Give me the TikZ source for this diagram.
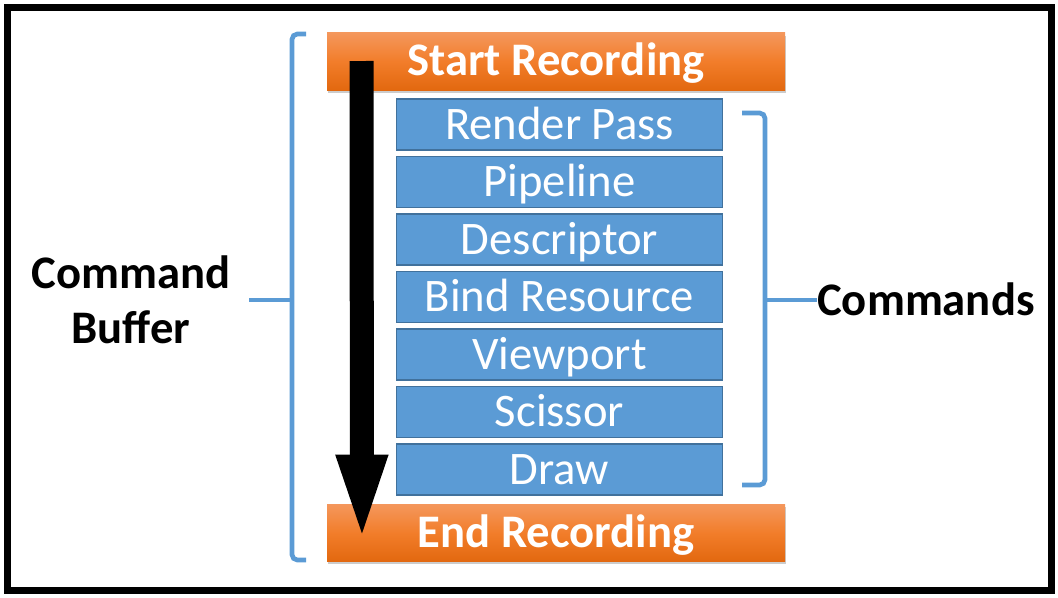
\documentclass[tikz,border=0pt]{standalone}
\usepackage{fontspec}
\setmainfont{Carlito}
\usetikzlibrary{arrows.meta,shadows}

\definecolor{cmdblue}{HTML}{5B9BD5}
\definecolor{cmdedge}{HTML}{41719C}
\definecolor{recTop}{HTML}{F4975C}
\definecolor{recMid}{HTML}{F27D2A}
\definecolor{recBot}{HTML}{E2680F}

\begin{document}
\begin{tikzpicture}[x=0.75pt,y=-0.75pt]

\tikzstyle{record}=[rectangle,top color=recTop,bottom color=recBot,middle color=recMid,minimum width=343.5pt,minimum height=43pt,inner sep=0pt,text=white,font=\fontsize{35}{42}\selectfont\bfseries,text height=24.5pt,text depth=3pt,drop shadow={shadow xshift=1pt,shadow yshift=-2pt,opacity=0.4}]
\tikzstyle{command}=[rectangle,fill=cmdblue,draw=cmdedge,line width=1.1pt,minimum width=244.5pt,minimum height=38pt,inner sep=0pt,text=white,font=\fontsize{35}{42}\selectfont,text height=24.5pt,text depth=2.5pt]
\tikzstyle{bracket}=[draw=cmdblue,line width=3.5pt,rounded corners=4pt]
\tikzstyle{side}=[font=\fontsize{35}{41}\selectfont\bfseries,inner sep=0pt,align=center]

\useasboundingbox (0,0) rectangle (1058,597);
\draw[line width=5.25pt] (7.5,7.5) rectangle (1051,590.5);

% brackets
\draw[bracket] (306,34) -| (292,560) -- (306,560);
\draw[bracket] (742,113) -| (765,485) -- (742,485);

\node[side] (buf) at (131,300) {Command\\Buffer};
\node[side,anchor=west,text height=22.75pt,text depth=0pt] (cmds) at (817,300) {Commands};

\coordinate (bufjoin) at (292,300);
\coordinate (buftick) at (249,300);
\coordinate (cmdjoin) at (765,300);
\draw[bracket] (bufjoin) -- (buftick);
\draw[bracket] (cmdjoin) -- (cmds.west);

\node[record] (start) at (556,61.5) {Start Recording};

\foreach \name [count=\i] in {Render Pass,Pipeline,Descriptor,Bind Resource,Viewport,Scissor,Draw}
{
  \node[command] (cmd\i) at (559.5,{124.5+57.5*(\i-1)}) {\name};
}

\node[record] (end) at (556,533) {End Recording};

% recording order
\coordinate (flowtop) at (361.5,61);
\coordinate (flowbot) at (362,548);
\draw[line width=18pt,-{Triangle[width=33pt,length=70pt]}] (flowtop) -- (flowbot);
\end{tikzpicture}
\end{document}
